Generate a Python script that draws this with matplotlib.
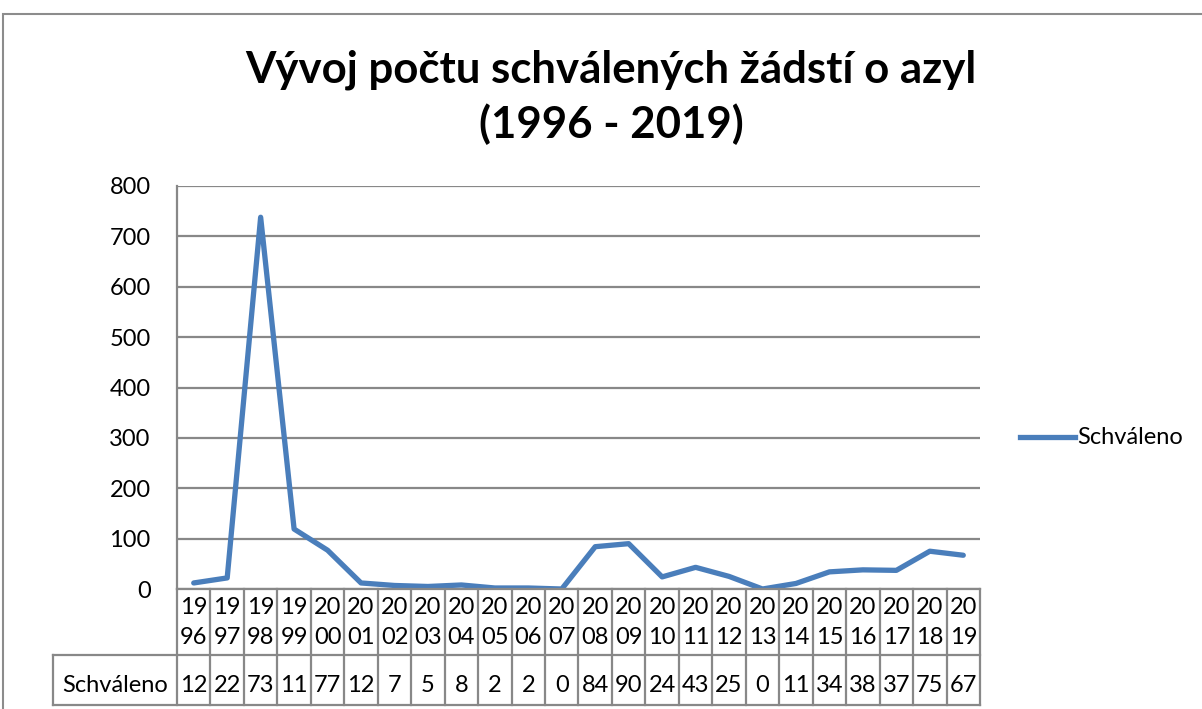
import matplotlib.pyplot as plt
import matplotlib.transforms as mtransforms
from matplotlib.lines import Line2D
from matplotlib.patches import Rectangle

# data
years = [str(y) for y in range(1996, 2020)]
approved = [12, 22, 738, 119, 77, 12, 7, 5, 8, 2, 2, 0,
            84, 90, 24, 43, 25, 0, 11, 34, 38, 37, 75, 67]
series_name = "Schváleno"
title = "Vývoj počtu schválených žádstí o azyl\n(1996 - 2019)"

W, H = 1202, 709
plt.rcParams['font.family'] = ['Lato', 'DejaVu Sans']
fs = 17

fig = plt.figure(figsize=(W / 100, H / 100), dpi=100)

def fy(py):
    # pixel row -> figure fraction
    return 1 - py / H

# outer chart frame
fig.add_artist(Rectangle((3 / W, fy(H + 20)), 1.1, (H + 20 - 14) / H,
                         transform=fig.transFigure, fill=False,
                         edgecolor='#8c8c8c', linewidth=1.5))

x0, x1, ytop, ybot = 177, 980, 186, 589
ax = fig.add_axes([x0 / W, fy(ybot), (x1 - x0) / W, (ybot - ytop) / H])

n = len(years)
xs = list(range(n))
ax.plot(xs, approved, color='#4a7ebb', linewidth=3.8,
        solid_joinstyle='round', solid_capstyle='round')

ax.set_xlim(-0.5, n - 0.5)
ax.set_ylim(0, 800)
ax.set_yticks(range(0, 801, 100))
ax.tick_params(axis='y', labelsize=fs, length=0, pad=19)
ax.set_xticks([])
ax.grid(axis='y', color='#888888', linewidth=1.6)
ax.set_axisbelow(True)
for s in ['top', 'right']:
    ax.spines[s].set_visible(False)
for s in ['left', 'bottom']:
    ax.spines[s].set_color('#888888')
    ax.spines[s].set_linewidth(1.6)

# data table below the plot
tr = mtransforms.blended_transform_factory(ax.transData, fig.transFigure)
grid_kw = dict(color='#888888', linewidth=1.6)
row_top, row_mid, row_bot = 589, 655, 705
for i in range(n + 1):
    fig.add_artist(Line2D([i - 0.5, i - 0.5], [fy(row_top), fy(row_bot)],
                          transform=tr, **grid_kw))
for py in [row_mid, row_bot]:
    fig.add_artist(Line2D([53 / W, x1 / W], [fy(py), fy(py)],
                          transform=fig.transFigure, **grid_kw))
fig.add_artist(Line2D([53 / W, 53 / W], [fy(row_mid), fy(row_bot)],
                      transform=fig.transFigure, **grid_kw))

for i, (yr, v) in enumerate(zip(years, approved)):
    fig.text(i, fy(607), yr[:2], transform=tr, ha='center', va='center', fontsize=fs)
    fig.text(i, fy(637), yr[2:], transform=tr, ha='center', va='center', fontsize=fs)
    fig.text(i, fy(686), str(v)[:2], transform=tr, ha='center', va='center', fontsize=fs)
fig.text(115 / W, fy(686), series_name, ha='center', va='center', fontsize=fs)

# legend
fig.add_artist(Line2D([1020 / W, 1075 / W], [fy(437), fy(437)],
                      transform=fig.transFigure, color='#4a7ebb', linewidth=3.8))
fig.text(1077 / W, fy(437), series_name, ha='left', va='center', fontsize=fs)

fig.text(611 / W, fy(97), title, ha='center', va='center', fontsize=31.5,
         fontweight='bold', linespacing=1.4)

fig.savefig('out.png', dpi=100)
